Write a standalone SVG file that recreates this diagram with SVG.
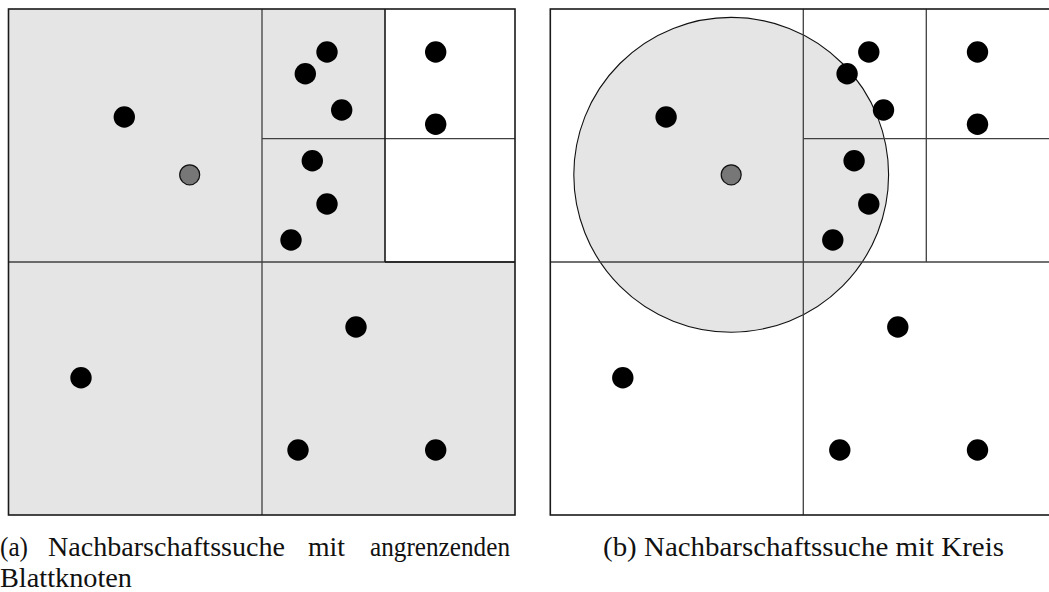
<svg xmlns="http://www.w3.org/2000/svg" width="1049" height="592" viewBox="0 0 1049 592">
<style>
.outer{fill:none;stroke:#1a1a1a;stroke-width:1.6}
.grid{fill:none;stroke:#404040;stroke-width:1.3}
.dark{fill:none;stroke:#1a1a1a;stroke-width:1.6}
.pt{fill:#000}
.q{fill:#777;stroke:#111;stroke-width:1.2}
.cap{font-family:"Liberation Serif","DejaVu Serif",serif;font-size:27px;fill:#111}
</style>
<rect width="1049" height="592" fill="#fff"/>
<g id="panel-a">
  <rect x="8.5" y="9" width="506.5" height="506" fill="#e5e5e5"/>
  <rect x="385" y="9" width="130" height="253" fill="#fff"/>
  <g class="grid">
    <line x1="262" y1="9" x2="262" y2="515"/>
    <line x1="8.5" y1="262" x2="515" y2="262"/>
    <line x1="262" y1="138.7" x2="515" y2="138.7"/>
  </g>
  <g class="dark">
    <line x1="385" y1="9" x2="385" y2="262"/>
    <line x1="385" y1="262" x2="515" y2="262"/>
  </g>
  <rect class="outer" x="8.5" y="9" width="506.5" height="506"/>
  <g class="pt">
    <circle cx="327" cy="52" r="10.7"/>
    <circle cx="305.3" cy="73.7" r="10.7"/>
    <circle cx="341.7" cy="110" r="10.7"/>
    <circle cx="435.7" cy="52" r="10.7"/>
    <circle cx="435.7" cy="124.3" r="10.7"/>
    <circle cx="124.3" cy="117" r="10.7"/>
    <circle cx="312.3" cy="160.7" r="10.7"/>
    <circle cx="327" cy="204" r="10.7"/>
    <circle cx="291" cy="240" r="10.7"/>
    <circle cx="356" cy="327" r="10.7"/>
    <circle cx="81" cy="377.7" r="10.7"/>
    <circle cx="298" cy="450" r="10.7"/>
    <circle cx="435.7" cy="450" r="10.7"/>
  </g>
  <circle class="q" cx="189.7" cy="174.8" r="10"/>
  <g class="cap">
    <text x="0" y="556" textLength="28" lengthAdjust="spacingAndGlyphs">(a)</text>
    <text x="48" y="556" textLength="237" lengthAdjust="spacingAndGlyphs">Nachbarschaftssuche</text>
    <text x="308" y="556" textLength="37" lengthAdjust="spacingAndGlyphs">mit</text>
    <text x="370" y="556" textLength="140" lengthAdjust="spacingAndGlyphs">angrenzenden</text>
    <text x="0" y="587" textLength="132" lengthAdjust="spacingAndGlyphs">Blattknoten</text>
  </g>
</g>
<g id="panel-b">
  <rect x="550.3" y="9" width="506.5" height="506" fill="#fff"/>
  <circle cx="731.2" cy="174.8" r="157.4" fill="#e5e5e5" stroke="#111" stroke-width="1.1"/>
  <g class="grid">
    <line x1="803.3" y1="9" x2="803.3" y2="515"/>
    <line x1="550.3" y1="262" x2="1056.8" y2="262"/>
    <line x1="803.3" y1="138.7" x2="1056.8" y2="138.7"/>
    <line x1="926.3" y1="9" x2="926.3" y2="262"/>
  </g>
  <rect class="outer" x="550.3" y="9" width="506.5" height="506"/>
  <g class="pt">
    <circle cx="868.8" cy="52" r="10.7"/>
    <circle cx="847.1" cy="73.7" r="10.7"/>
    <circle cx="883.5" cy="110" r="10.7"/>
    <circle cx="977.5" cy="52" r="10.7"/>
    <circle cx="977.5" cy="124.3" r="10.7"/>
    <circle cx="666.1" cy="117" r="10.7"/>
    <circle cx="854.1" cy="160.7" r="10.7"/>
    <circle cx="868.8" cy="204" r="10.7"/>
    <circle cx="832.8" cy="240" r="10.7"/>
    <circle cx="897.8" cy="327" r="10.7"/>
    <circle cx="622.8" cy="377.7" r="10.7"/>
    <circle cx="839.8" cy="450" r="10.7"/>
    <circle cx="977.5" cy="450" r="10.7"/>
  </g>
  <circle class="q" cx="731.2" cy="174.8" r="10"/>
  <text class="cap" x="603" y="556" textLength="401" lengthAdjust="spacingAndGlyphs">(b) Nachbarschaftssuche mit Kreis</text>
</g>
</svg>
